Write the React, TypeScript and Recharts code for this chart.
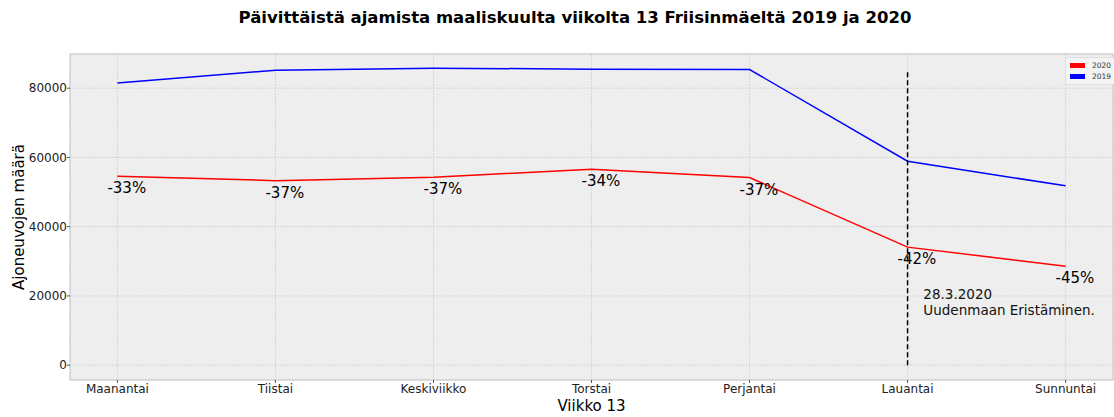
import React from 'react';
import {
  LineChart, Line, CartesianGrid, XAxis, YAxis, ReferenceLine, ReferenceDot, ReferenceArea, LabelList
} from 'recharts';

const days = ['Maanantai', 'Tiistai', 'Keskiviikko', 'Torstai', 'Perjantai', 'Lauantai', 'Sunnuntai'];
const v2019 = [81500, 85200, 85800, 85500, 85400, 58900, 51800];
const v2020 = [54600, 53300, 54300, 56600, 54200, 34100, 28600];
const pctLabels = ['-33%', '-37%', '-37%', '-34%', '-37%', '-42%', '-45%'];
const yTicks = [0, 20000, 40000, 60000, 80000];
const lockdownDay = 5;
const lockdownTop = 85000;
const noteX = 5.1;
const noteY = 16000;
const noteLines = ['28.3.2020', 'Uudenmaan Eristäminen.'];
const legendItems = [{ name: '2020', color: '#ff0000' }, { name: '2019', color: '#0000ff' }];

const data = days.map((d, i) => ({ x: i, day: d, y2019: v2019[i], y2020: v2020[i], pct: pctLabels[i] }));

const FONT = '"DejaVu Sans", sans-serif';

export default function App() {
  return (
    <div style={{ position: 'absolute', left: 0, top: 0, width: 1114, height: 417, background: '#fff', fontFamily: FONT }}>
      <div style={{ position: 'absolute', left: 0, top: 8, width: 1150, textAlign: 'center', fontSize: 16.5, fontWeight: 'bold', color: '#000', lineHeight: '20px' }}>
        Päivittäistä ajamista maaliskuulta viikolta 13 Friisinmäeltä 2019 ja 2020
      </div>
      <LineChart width={1114} height={417} data={data} margin={{ top: 54, right: 1, bottom: 0, left: 0 }}>
        <CartesianGrid fill="#eeeeee" stroke="#d6d6d6" strokeDasharray="2 1" />
        <XAxis
          dataKey="x"
          type="number"
          domain={[-0.3, 6.3]}
          ticks={[0, 1, 2, 3, 4, 5, 6]}
          tickFormatter={(v) => days[v]}
          height={37}
          axisLine={false}
          tickSize={3}
          tickLine={{ stroke: '#555' }}
          tick={{ fontSize: 12, fill: '#222', fontFamily: FONT, dy: -1 }}
          allowDataOverflow
          label={{ value: 'Viikko 13', position: 'insideBottom', offset: 6, style: { fontSize: 15, fill: '#000', fontFamily: FONT } }}
        />
        <YAxis
          type="number"
          domain={[-4280, 89880]}
          ticks={yTicks}
          width={70}
          axisLine={false}
          tickSize={3}
          tickLine={{ stroke: '#555' }}
          tick={{ fontSize: 12, fill: '#222', fontFamily: FONT, dx: 2 }}
          allowDataOverflow
          label={{ value: 'Ajoneuvojen määrä', angle: -90, position: 'center', dx: -16, style: { fontSize: 15, fill: '#000', fontFamily: FONT, textAnchor: 'middle' } }}
        />
        <ReferenceArea x1={-0.3} x2={6.3} y1={-4280} y2={89880} fill="none" stroke="#c8c8c8" strokeWidth={1} ifOverflow="extendDomain" />
        <Line type="linear" dataKey="y2020" name="2020" stroke="#ff0000" strokeWidth={1.5} dot={false} isAnimationActive={false}>
          <LabelList
            dataKey="pct"
            content={(p: any) => (
              <text x={p.x - 10} y={p.y + 17} fontSize={15} fill="#000" fontFamily={FONT}>{p.value}</text>
            )}
          />
        </Line>
        <Line type="linear" dataKey="y2019" name="2019" stroke="#0000ff" strokeWidth={1.5} dot={false} isAnimationActive={false} />
        <ReferenceLine
          segment={[{ x: lockdownDay, y: 0 }, { x: lockdownDay, y: lockdownTop }]}
          stroke="#000"
          strokeWidth={1.5}
          strokeDasharray="5 3"
        />
        <ReferenceDot
          x={noteX}
          y={noteY}
          r={0}
          shape={(p: any) => (
            <text x={p.cx} y={p.cy} fontSize={13.5} fill="#111" fontFamily={FONT}>
              <tspan x={p.cx} dy={-11}>{noteLines[0]}</tspan>
              <tspan x={p.cx} dy={16}>{noteLines[1]}</tspan>
            </text>
          )}
        />
      </LineChart>
      <div style={{ position: 'absolute', left: 1065, top: 57, background: '#f4f4f4', border: '1px solid #e0e0e0', borderRadius: 2, padding: '2px 4px', fontSize: 7.5, color: '#333', fontFamily: FONT, lineHeight: '11px' }}>
        {legendItems.map((e) => (
          <div key={e.name} style={{ display: 'flex', alignItems: 'center' }}>
            <span style={{ display: 'inline-block', width: 15, height: 5, background: e.color, marginRight: 7 }} />
            {e.name}
          </div>
        ))}
      </div>
    </div>
  );
}
